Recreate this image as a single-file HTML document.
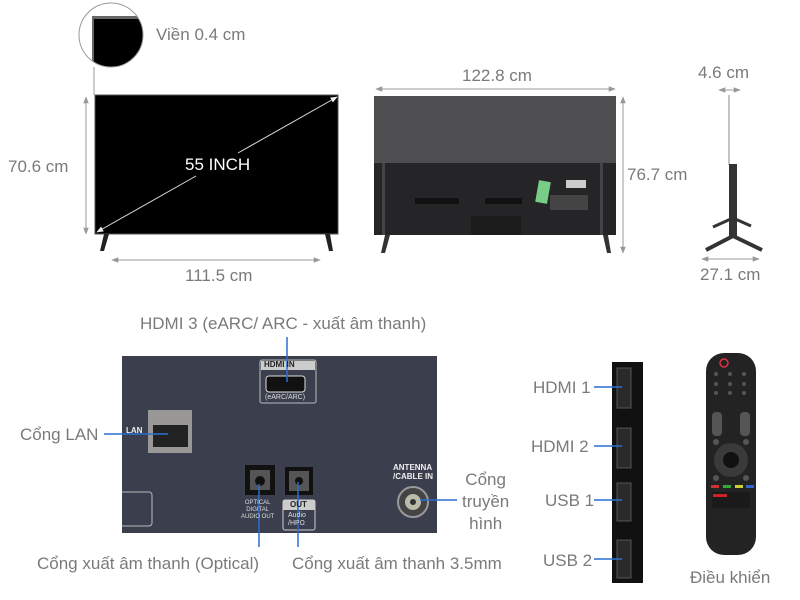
<!DOCTYPE html>
<html><head><meta charset="utf-8"><style>
body{margin:0;width:800px;height:600px;background:#fff;overflow:hidden;position:relative;font-family:"Liberation Sans","DejaVu Sans",sans-serif}
.t{position:absolute;color:#7a7a7a;font-size:17px;white-space:nowrap;line-height:1}
svg{position:absolute;left:0;top:0}
</style></head><body>
<svg width="800" height="600" viewBox="0 0 800 600">
<defs>
<marker id="a" viewBox="0 0 10 10" refX="9" refY="5" markerWidth="7" markerHeight="7" orient="auto-start-reverse"><path d="M0,1L10,5L0,9z" fill="#999"/></marker>
<marker id="w" viewBox="0 0 10 10" refX="9" refY="5" markerWidth="7" markerHeight="7" orient="auto-start-reverse"><path d="M0,1L10,5L0,9z" fill="#eee"/></marker>
<clipPath id="c"><circle cx="111" cy="35" r="32"/></clipPath>
</defs>
<g clip-path="url(#c)"><rect x="70" y="0" width="90" height="80" fill="#fff"/><rect x="92" y="16" width="70" height="70" fill="#666"/><rect x="94" y="19" width="70" height="70" fill="#000"/></g>
<circle cx="111" cy="35" r="32" fill="none" stroke="#999" stroke-width="1"/>
<line x1="94" y1="67" x2="94" y2="95" stroke="#999"/>
<rect x="95" y="95" width="243" height="139" fill="#000" stroke="#555"/>
<path d="M104,234l-4,17h4l5,-17z M325,234l4,17h4l-3,-17z" fill="#222"/>
<line x1="86" y1="97" x2="86" y2="234" stroke="#999" marker-start="url(#a)" marker-end="url(#a)"/>
<line x1="112" y1="260" x2="320" y2="260" stroke="#999" marker-start="url(#a)" marker-end="url(#a)"/>
<line x1="97" y1="232" x2="196" y2="176" stroke="#ddd" marker-start="url(#w)"/>
<line x1="238" y1="153" x2="337" y2="97" stroke="#ddd" marker-end="url(#w)"/>
<rect x="374" y="96" width="242" height="68" fill="#4e4e50"/>
<rect x="374" y="163" width="242" height="72" fill="#252527"/>
<rect x="382" y="163" width="3" height="72" fill="#444"/>
<rect x="600" y="163" width="3" height="72" fill="#444"/>
<rect x="415" y="198" width="44" height="6" fill="#111"/><rect x="485" y="198" width="37" height="6" fill="#111"/>
<rect x="471" y="216" width="50" height="19" fill="#1c1c1c"/>
<rect x="550" y="195" width="38" height="15" fill="#444"/>
<rect x="537" y="181" width="12" height="22" fill="#7c8" transform="rotate(10 543 192)"/>
<rect x="566" y="180" width="20" height="8" fill="#ccc"/>
<path d="M385,235l-4,18h4l5,-18z M603,235l4,18h4l-3,-18z" fill="#333"/>
<line x1="376" y1="89" x2="615" y2="89" stroke="#999" marker-start="url(#a)" marker-end="url(#a)"/>
<line x1="623" y1="97" x2="623" y2="253" stroke="#999" marker-start="url(#a)" marker-end="url(#a)"/>
<line x1="729" y1="95" x2="729" y2="165" stroke="#888"/>
<rect x="729" y="164" width="8" height="72" fill="#333"/>
<path d="M733,218l-20,9 M733,218l18,8" stroke="#333" stroke-width="3"/>
<path d="M733,236l-27,14 M733,236l29,14" stroke="#333" stroke-width="4"/>
<line x1="719" y1="90" x2="740" y2="90" stroke="#999" marker-start="url(#a)" marker-end="url(#a)"/>
<line x1="702" y1="259" x2="759" y2="259" stroke="#999" marker-start="url(#a)" marker-end="url(#a)"/>
<rect x="122" y="356" width="315" height="177" fill="#3b3f4d"/>
<rect x="260" y="360" width="56" height="43" rx="2" fill="none" stroke="#bbb"/>
<rect x="261" y="361" width="54" height="9" fill="#ccc"/>
<rect x="266" y="376" width="39" height="16" rx="3" fill="#111" stroke="#ddd"/>
<rect x="148" y="410" width="44" height="43" fill="#9a9797"/>
<rect x="153" y="425" width="35" height="22" fill="#222"/>
<rect x="245" y="465" width="30" height="30" fill="#111"/><rect x="250" y="470" width="20" height="20" fill="#555"/><circle cx="260" cy="481" r="5" fill="#111"/>
<rect x="285" y="467" width="28" height="28" fill="#111"/><rect x="289" y="471" width="20" height="20" fill="#555"/><circle cx="299" cy="481" r="4" fill="#111"/>
<rect x="283" y="500" width="32" height="30" rx="2" fill="none" stroke="#ccc"/><rect x="283" y="500" width="32" height="10" fill="#ccc"/>
<path d="M122,492H149a3,3 0 0 1 3,3V523a3,3 0 0 1 -3,3H122" fill="none" stroke="#bbb"/>
<circle cx="413" cy="502" r="15" fill="#444" stroke="#999" stroke-width="2"/><circle cx="413" cy="502" r="8" fill="#bba"/><circle cx="413" cy="502" r="3" fill="#333"/>
<g stroke="#2a6fd0" stroke-width="1.5">
<line x1="287" y1="337" x2="287" y2="382"/>
<line x1="104" y1="434" x2="168" y2="434"/>
<line x1="420" y1="500" x2="457" y2="500"/>
<line x1="259" y1="484" x2="259" y2="547"/>
<line x1="298" y1="482" x2="298" y2="547"/>
</g>
<rect x="612" y="362" width="31" height="221" fill="#111"/>
<g fill="#2a2a2a" stroke="#555">
<rect x="617" y="368" width="14" height="40"/><rect x="617" y="428" width="14" height="40"/>
<rect x="617" y="483" width="14" height="38"/><rect x="617" y="540" width="14" height="38"/>
</g>
<g stroke="#2a6fd0" stroke-width="1.5">
<line x1="594" y1="387" x2="622" y2="387"/><line x1="594" y1="446" x2="622" y2="446"/>
<line x1="594" y1="500" x2="622" y2="500"/><line x1="594" y1="559" x2="622" y2="559"/>
</g>
<rect x="706" y="353" width="50" height="202" rx="18" fill="#232323"/>
<circle cx="724" cy="363" r="4" fill="none" stroke="#e03040" stroke-width="1.5"/>
<circle cx="731" cy="460" r="17" fill="#3a3a3a"/><circle cx="731" cy="460" r="8" fill="#111"/>
<g fill="#555"><circle cx="716" cy="374" r="2"/><circle cx="730" cy="374" r="2"/><circle cx="744" cy="374" r="2"/><circle cx="716" cy="384" r="2"/><circle cx="730" cy="384" r="2"/><circle cx="744" cy="384" r="2"/><circle cx="716" cy="393" r="2"/><circle cx="730" cy="393" r="2"/><circle cx="744" cy="393" r="2"/>
<rect x="712" y="412" width="10" height="24" rx="4"/><rect x="740" y="412" width="10" height="24" rx="4"/><circle cx="716" cy="442" r="3"/><circle cx="746" cy="442" r="3"/><circle cx="716" cy="478" r="3"/><circle cx="746" cy="478" r="3"/></g>
<rect x="711" y="485" width="8" height="3" fill="#c33"/><rect x="723" y="485" width="8" height="3" fill="#3a3"/><rect x="735" y="485" width="8" height="3" fill="#cc3"/><rect x="746" y="485" width="8" height="3" fill="#36c"/>
<rect x="712" y="492" width="38" height="16" fill="#1a1a1a"/><rect x="713" y="494" width="14" height="3" fill="#c22"/>
</svg>
<div class="t" style="left:156px;top:26px">Viền 0.4 cm</div>
<div class="t" style="left:8px;top:158px">70.6 cm</div>
<div class="t" style="left:185px;top:156px;color:#fff">55 INCH</div>
<div class="t" style="left:185px;top:267px">111.5 cm</div>
<div class="t" style="left:462px;top:67px">122.8 cm</div>
<div class="t" style="left:627px;top:166px">76.7 cm</div>
<div class="t" style="left:698px;top:64px">4.6 cm</div>
<div class="t" style="left:700px;top:266px">27.1 cm</div>
<div class="t" style="left:140px;top:315px">HDMI 3 (eARC/ ARC - xuất âm thanh)</div>
<div class="t" style="left:264px;top:361px;font-size:8px;color:#222;font-weight:bold">HDMI IN</div>
<div class="t" style="left:265px;top:394px;font-size:7px;color:#ddd">(eARC/ARC)</div>
<div class="t" style="left:20px;top:426px">Cổng LAN</div>
<div class="t" style="left:126px;top:427px;font-size:8px;color:#eee;font-weight:bold">LAN</div>
<div class="t" style="left:393px;top:463px;font-size:8px;color:#eee;font-weight:bold;line-height:9px">ANTENNA<br>/CABLE IN</div>
<div class="t" style="left:241px;top:500px;font-size:6px;color:#ddd;line-height:7px;text-align:center">OPTICAL<br>DIGITAL<br>AUDIO OUT</div>
<div class="t" style="left:290px;top:501px;font-size:8px;color:#222;font-weight:bold">OUT</div>
<div class="t" style="left:288px;top:512px;font-size:7px;color:#ddd;line-height:8px">Audio<br>/HPΩ</div>
<div class="t" style="left:462px;top:469px;text-align:center;line-height:22px">Cổng<br>truyền<br>hình</div>
<div class="t" style="left:37px;top:555px">Cổng xuất âm thanh (Optical)</div>
<div class="t" style="left:292px;top:555px">Cổng xuất âm thanh 3.5mm</div>
<div class="t" style="left:533px;top:379px">HDMI 1</div>
<div class="t" style="left:531px;top:438px">HDMI 2</div>
<div class="t" style="left:545px;top:492px">USB 1</div>
<div class="t" style="left:543px;top:552px">USB 2</div>
<div class="t" style="left:690px;top:569px">Điều khiển</div>
</body></html>
